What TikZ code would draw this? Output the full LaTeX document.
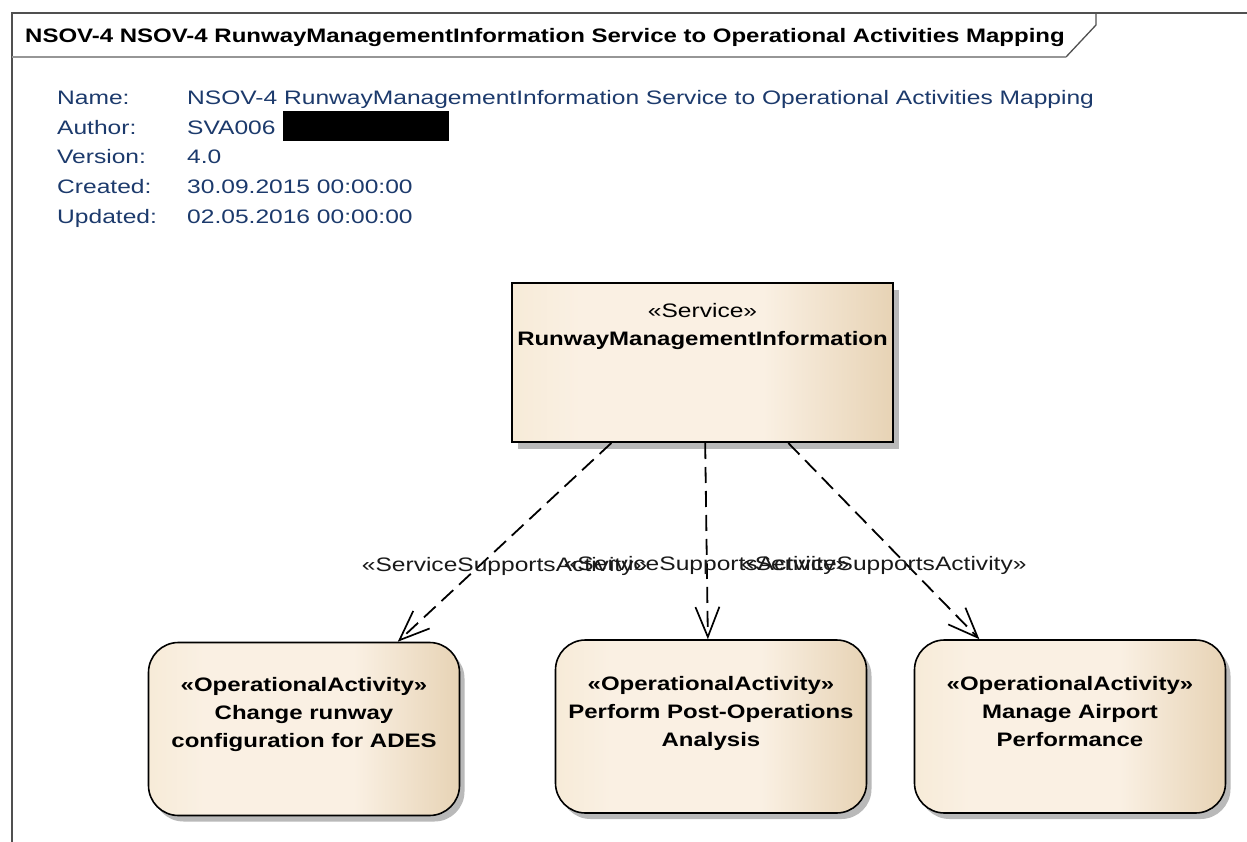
\documentclass[tikz,border=0pt]{standalone}
\usepackage{fontspec}
\setmainfont{Liberation Sans}[FakeStretch=1.26, BoldFeatures={FakeStretch=1.23}]
\usetikzlibrary{arrows.meta,shadows,calc}

\definecolor{hdrblue}{RGB}{28,58,108}
\definecolor{framegray}{RGB}{80,80,80}
\definecolor{tabgray}{RGB}{150,150,150}
\definecolor{shadowgray}{RGB}{185,185,185}
\definecolor{creamA}{RGB}{247,235,216}
\definecolor{creamB}{RGB}{250,240,227}
\definecolor{creamC}{RGB}{231,211,181}

% left-to-right fill of the model elements (path is mapped onto 25bp..75bp)
\pgfdeclarehorizontalshading{elementfill}{100bp}{%
  color(0bp)=(creamA); color(25bp)=(creamA); color(34bp)=(creamB);
  color(58bp)=(creamB); color(75bp)=(creamC); color(100bp)=(creamC)}

\tikzset{
  txt/.style={inner sep=0pt, font=\fontsize{19.5pt}{28.5pt}\selectfont},
  hdrkey/.style={txt, text=hdrblue, anchor=base west},
  hdrval/.style={txt, text=hdrblue, anchor=base west},
  frameline/.style={draw=framegray, line width=1.3pt},
  svcbox/.style={draw=black, line width=2pt, shading=elementfill,
    minimum width=381pt, minimum height=159pt, inner sep=0pt,
    drop shadow={shadow xshift=6pt, shadow yshift=-7pt, fill=shadowgray, opacity=1}},
  actbox/.style={draw=black, line width=1.6pt, rounded corners=30pt, shading=elementfill,
    minimum width=311pt, minimum height=173pt, inner sep=0pt,
    drop shadow={shadow xshift=5pt, shadow yshift=-6pt, fill=shadowgray, opacity=1}},
  boxtext/.style={txt, align=center, text=black},
  dep/.style={draw=black, line width=1.8pt, dash pattern=on 16pt off 8pt,
    -{Straight Barb[length=30pt,width=24pt,line width=1.7pt]}},
  deplabel/.style={txt, text=black!90, anchor=base, yshift=-29pt},
}

\begin{document}
\begin{tikzpicture}[x=1pt,y=-1pt]
  \useasboundingbox (0,0) rectangle (1247,842);
  \fill[white] (0,0) rectangle (1247,842);

  % diagram frame and title tab
  \draw[frameline] (12,842) -- (12,13) -- (1247,13);
  \draw[frameline] (1096,13) -- (1096,25) -- (1066,57);
  \draw[draw=tabgray, line width=1.6pt] (1066,57) -- (12,57);
  \node[txt, anchor=base west, font=\fontsize{19.5pt}{24pt}\selectfont\bfseries] (title) at (25,42.5)
    {NSOV-4 NSOV-4 RunwayManagementInformation Service to Operational Activities Mapping};

  % diagram properties
  \node[hdrkey] (kname) at (57,104.5) {Name:};
  \node[hdrkey] (kauth) at (57,134.2) {Author:};
  \node[hdrkey] (kver)  at (57,164)   {Version:};
  \node[hdrkey] (kcre)  at (57,193.7) {Created:};
  \node[hdrkey] (kupd)  at (57,223.5) {Updated:};
  \node[hdrval] (vname) at (187,104.5) {NSOV-4 RunwayManagementInformation Service to Operational Activities Mapping};
  \node[hdrval] (vauth) at (187,134.2) {SVA006};
  \node[hdrval] (vver)  at (187,164)   {4.0};
  \node[hdrval] (vcre)  at (187,193.7) {30.09.2015 00:00:00};
  \node[hdrval] (vupd)  at (187,223.5) {02.05.2016 00:00:00};
  \fill[black] (283,111) rectangle (449,141);

  % service
  \node[svcbox] (svc) at (702.5,362.5) {};
  \node[boxtext, anchor=north] (svctext) at ($(svc.north)+(0,21)$)
    {«Service»\\\bfseries RunwayManagementInformation};

  % operational activities
  \node[actbox] (act1) at (304,729) {};
  \node[actbox] (act2) at (711,726.5) {};
  \node[actbox] (act3) at (1070,726.5) {};
  \node[boxtext, anchor=north, font=\fontsize{19.5pt}{28pt}\selectfont\bfseries] (act1text) at ($(act1.north)+(0,35.5)$)
    {«OperationalActivity»\\Change runway\\configuration for ADES};
  \node[boxtext, anchor=north, font=\fontsize{19.5pt}{28pt}\selectfont\bfseries] (act2text) at ($(act2.north)+(0,37)$)
    {«OperationalActivity»\\Perform Post-Operations\\Analysis};
  \node[boxtext, anchor=north, font=\fontsize{19.5pt}{28pt}\selectfont\bfseries] (act3text) at ($(act3.north)+(0,37)$)
    {«OperationalActivity»\\Manage Airport\\Performance};

  % service-supports-activity dependencies
  \draw[dep] ($(svc.south west)!0.262!(svc.south east)$) -- ($(act1.north west)!0.80!(act1.north east)$)
    node[deplabel, midway] {«ServiceSupportsActivity»};
  \draw[dep] ($(svc.south west)!0.507!(svc.south east)$) -- ($(act2.north west)!0.49!(act2.north east)$)
    node[deplabel, midway] {«ServiceSupportsActivity»};
  \draw[dep] ($(svc.south west)!0.724!(svc.south east)$) -- ($(act3.north west)!0.21!(act3.north east)$)
    node[deplabel, midway] {«ServiceSupportsActivity»};
\end{tikzpicture}
\end{document}
